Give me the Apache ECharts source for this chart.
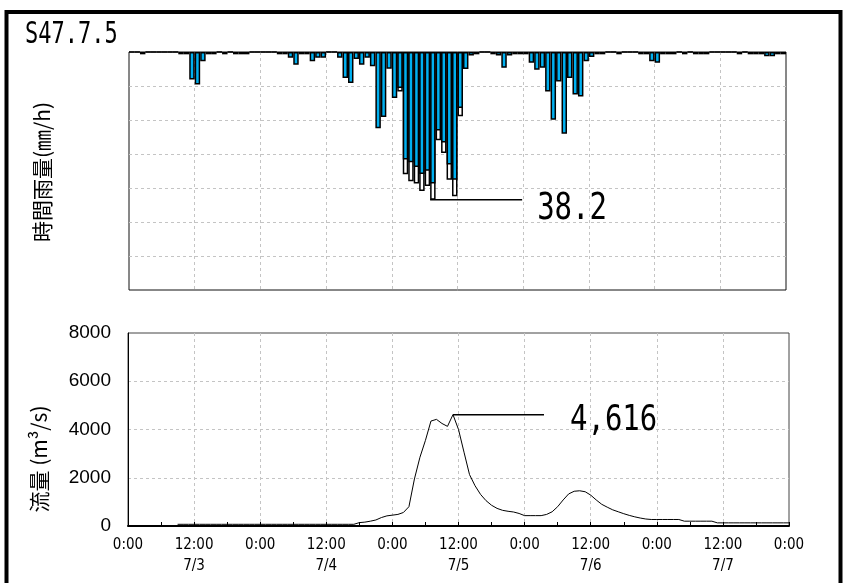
<!DOCTYPE html>
<html>
<head>
<meta charset="utf-8">
<title>S47.7.5</title>
<script src="https://cdn.jsdelivr.net/npm/echarts@6.0.0/dist/echarts.min.js"></script>
<style>
  html, body { margin: 0; padding: 0; background: #fff; }
  #chart { width: 843px; height: 583px; }
</style>
</head>
<body>
<div id="chart"></div>
<script>
// 時間雨量 (mm/h), one bar per hour from 7/3 0:00
var rainfall = [
  0, 0, 0.6, 0, 0, 0, 0, 0, 0, 0.6,
  0.6, 7.1, 8.4, 2.4, 0.6, 0.6, 0, 0.6, 0, 0.6,
  0.6, 0.6, 0, 0, 0, 0, 0, 0.6, 0.6, 1.5,
  3.3, 0.6, 0.6, 2.4, 1.5, 1.5, 0, 0, 1.5, 6.7,
  8.0, 1.8, 3.3, 1.5, 3.7, 19.7, 16.8, 4.3, 11.9, 9.3,
  27.8, 28.5, 29.7, 31.5, 30.7, 34.0, 20.3, 23.4, 29.1, 33.0,
  14.5, 4.4, 0.9, 0.6, 0, 0, 0.6, 0.9, 4.1, 0.9,
  0.6, 0.6, 0.6, 2.8, 4.6, 4.1, 10.2, 17.5, 7.6, 21.1,
  6.7, 11.0, 11.5, 2.4, 1.3, 0.6, 0.6, 0, 0, 0.6,
  0, 0, 0, 0.6, 0.6, 2.4, 2.8, 0.6, 0.6, 0.6,
  0, 0.6, 0, 0.6, 0.6, 0.6, 0, 0, 0, 0,
  0, 0.6, 0, 0.6, 0.6, 0.6, 1.1, 1.1, 0.6, 0.6
]
// white (larger) bars behind the blue ones, hours 49..60
var rainfallTotalStart = 49
var rainfallTotal = [10.2, 31.6, 33.4, 34.0, 35.9, 34.6, 38.2, 22.8, 26.1, 33.0, 37.3, 16.6]

// 流量 (m3/s), hourly 0..120
var discharge = [
  null, null, null, null, null, null, null, null, null, 70,
  70, 70, 70, 70, 70, 70, 70, 70, 70, 70,
  70, 70, 70, 70, 70, 70, 70, 70, 70, 70,
  70, 70, 70, 70, 70, 70, 70, 70, 70, 70,
  70, 70, 140, 160, 200, 250, 350, 420, 450, 480,
  560, 800, 1950, 2850, 3550, 4350, 4420, 4250, 4130, 4616,
  4000, 3060, 2130, 1670, 1310, 1050, 860, 730, 650, 610,
  580, 520, 430, 430, 430, 430, 480, 590, 800, 1080,
  1330, 1440, 1460, 1420, 1280, 1080, 900, 780, 670, 590,
  510, 440, 380, 330, 290, 270, 270, 270, 270, 270,
  270, 200, 200, 200, 200, 200, 200, 130, 130, 130,
  130, 130, 130, 130, 130, 130, 130, 130, 130, 130, 130
]

var xTickLabels = ['0:00', '12:00\n7/3', '0:00', '12:00\n7/4', '0:00', '12:00\n7/5',
  '0:00', '12:00\n7/6', '0:00', '12:00\n7/7', '0:00']

var peakRain = { hour: 55, value: 38.2, text: '38.2' }
var peakFlow = { hour: 59, value: 4616, text: '4,616' }

var monoFont = '"DejaVu Sans Mono", "Liberation Mono", monospace'
var condFont = '"DejaVu Sans Condensed", "DejaVu Sans", sans-serif'
var cjkFont = '"Noto Sans CJK JP", "Noto Sans", sans-serif'
var gridLine = { show: true, showMinLine: false, showMaxLine: false, lineStyle: { color: '#c4c4c4', width: 1, type: [3, 3] } }
var hidden = { axisLine: { show: false }, axisTick: { show: false }, axisLabel: { show: false } }

var hourCats = rainfall.map(function(v, i) { return String(i) })
var totalBars = rainfall.map(function(v, i) {
  var k = i - rainfallTotalStart
  return (k >= 0 && k < rainfallTotal.length) ? rainfallTotal[k] : '-'
})
var flowData = discharge.map(function(v, i) { return [i, v] })

var chart = echarts.init(document.getElementById('chart'))
chart.setOption({
  animation: false,
  backgroundColor: '#fff',
  grid: [
    { left: 129, top: 52, right: 57, bottom: 293, show: true, borderColor: '#111', borderWidth: 1 },
    { left: 128, top: 333, right: 54, bottom: 57, show: true, borderColor: '#444', borderWidth: 1 }
  ],
  xAxis: [
    Object.assign({ type: 'category', gridIndex: 0, data: hourCats, splitLine: { show: false } }, hidden),
    Object.assign({ type: 'value', gridIndex: 0, min: 0, max: 120, interval: 12, splitLine: gridLine }, hidden),
    {
      type: 'value',
      gridIndex: 1,
      min: 0,
      max: 120,
      interval: 12,
      axisLine: { lineStyle: { color: '#000', width: 2 } },
      axisTick: { inside: true, length: 4, lineStyle: { color: '#000' } },
      minorTick: { show: true, splitNumber: 2, length: 4, lineStyle: { color: '#000' } },
      axisLabel: {
        color: '#000',
        fontFamily: condFont,
        fontSize: 15,
        lineHeight: 21,
        margin: 9,
        formatter: function(value) {
          return xTickLabels[Math.round(value / 12)]
        }
      },
      splitLine: gridLine
    }
  ],
  yAxis: [
    Object.assign({ type: 'value', gridIndex: 0, inverse: true, min: 0, max: 61.5, splitLine: { show: false } }, hidden),
    Object.assign({ type: 'value', gridIndex: 0, min: 0, max: 7, interval: 1, position: 'left', splitLine: gridLine }, hidden),
    {
      type: 'value',
      gridIndex: 1,
      min: 0,
      max: 8000,
      interval: 2000,
      axisLine: { show: true, lineStyle: { color: '#000' } },
      axisTick: { show: false },
      axisLabel: {
        color: '#000',
        fontFamily: '"Liberation Sans", Arial, sans-serif',
        fontSize: 19,
        margin: 17,
        formatter: function(value) { return String(value) }
      },
      splitLine: gridLine
    }
  ],
  series: [
    {
      type: 'bar',
      xAxisIndex: 0,
      yAxisIndex: 0,
      data: totalBars,
      barCategoryGap: '0%',
      barGap: '-100%',
      itemStyle: { color: '#fff', borderColor: '#000', borderWidth: 1.5 }
    },
    {
      type: 'bar',
      xAxisIndex: 0,
      yAxisIndex: 0,
      data: rainfall,
      barCategoryGap: '0%',
      barGap: '-100%',
      itemStyle: { color: '#00b0f0', borderColor: '#000', borderWidth: 1.5 }
    },
    {
      type: 'line',
      xAxisIndex: 2,
      yAxisIndex: 2,
      data: flowData,
      symbol: 'none',
      lineStyle: { color: '#000', width: 1 }
    }
  ]
})

// leader lines and value labels, anchored to the data points
var rp = chart.convertToPixel({ xAxisIndex: 1, yAxisIndex: 0 }, [peakRain.hour, peakRain.value])
var fp = chart.convertToPixel({ xAxisIndex: 2, yAxisIndex: 2 }, [peakFlow.hour, peakFlow.value])

chart.setOption({
  graphic: [
    {
      type: 'rect',
      shape: { x: 6.5, y: 12, width: 834, height: 600 },
      style: { fill: 'none', stroke: '#000', lineWidth: 4 },
      silent: true
    },
    {
      type: 'text', x: 25, y: 35, scaleY: 1.35,
      style: { text: 'S47.7.5', font: '22px ' + monoFont, fill: '#000', verticalAlign: 'middle' }
    },
    {
      type: 'text', x: 42, y: 172, rotation: Math.PI / 2,
      style: { text: '時間雨量(㎜/h)', font: '21px ' + cjkFont, fill: '#000', align: 'center', verticalAlign: 'middle' }
    },
    {
      type: 'text', x: 39, y: 459, rotation: Math.PI / 2,
      style: { text: '流量 (m³/s)', font: '21px ' + cjkFont, fill: '#000', align: 'center', verticalAlign: 'middle' }
    },
    {
      type: 'line',
      shape: { x1: rp[0], y1: rp[1], x2: rp[0] + 92, y2: rp[1] },
      style: { stroke: '#000', lineWidth: 1.5 }
    },
    {
      type: 'text', x: rp[0] + 107, y: rp[1] + 10, scaleY: 1.28,
      style: { text: peakRain.text, font: '29px ' + monoFont, fill: '#000', verticalAlign: 'middle' }
    },
    {
      type: 'line',
      shape: { x1: fp[0], y1: fp[1], x2: fp[0] + 91, y2: fp[1] },
      style: { stroke: '#000', lineWidth: 1.5 }
    },
    {
      type: 'text', x: fp[0] + 117, y: fp[1] + 6, scaleY: 1.22,
      style: { text: peakFlow.text, font: '29px ' + monoFont, fill: '#000', verticalAlign: 'middle' }
    }
  ]
})
</script>
</body>
</html>
